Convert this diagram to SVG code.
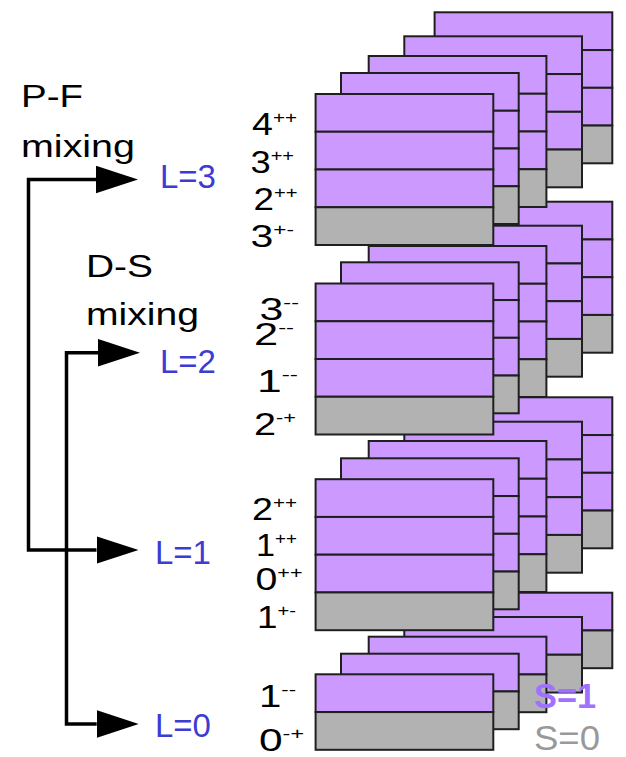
<svg xmlns="http://www.w3.org/2000/svg" xmlns:xlink="http://www.w3.org/1999/xlink" width="626" height="757" viewBox="0 0 626 757">
  <style>
    .spin1 { fill: #cc99ff; stroke: #1f1f1f; stroke-width: 2; }
    .spin0 { fill: #b2b2b2; stroke: #1f1f1f; stroke-width: 2; }
    .wire { fill: none; stroke: #000; stroke-width: 3.5; stroke-linejoin: miter; }
    .mix { font-family: "Liberation Sans", Arial, sans-serif; font-size: 32px; fill: #000; }
    .lval { font-family: "Liberation Sans", Arial, sans-serif; font-size: 33px; fill: #3c3cd4; }
    .jpc { font-family: "Liberation Sans", Arial, sans-serif; font-size: 31px; fill: #000; }
    .sup { font-size: 17px; }
    .s1 { font-family: "Liberation Sans", Arial, sans-serif; font-size: 35px; font-weight: bold; fill: #a070ff; }
    .s0 { font-family: "Liberation Sans", Arial, sans-serif; font-size: 35px; fill: #999999; }
  </style>
  <defs>
    <!-- one multiplet card: three spin-1 rows above one spin-0 row -->
    <g id="card4">
      <rect class="spin1" x="0" y="0" width="177.7" height="37.75"/>
      <rect class="spin1" x="0" y="37.75" width="177.7" height="37.75"/>
      <rect class="spin1" x="0" y="75.5" width="177.7" height="37.75"/>
      <rect class="spin0" x="0" y="113.25" width="177.7" height="37.75"/>
    </g>
    <!-- S-wave card: one spin-1 row above one spin-0 row -->
    <g id="card2">
      <rect class="spin1" x="0" y="0" width="177.7" height="37.75"/>
      <rect class="spin0" x="0" y="37.75" width="177.7" height="37.75"/>
    </g>
    <marker id="head" markerUnits="userSpaceOnUse" markerWidth="42" markerHeight="28" refX="0" refY="13.75" orient="auto-start-reverse" viewBox="0 0 42 27.5">
      <path d="M0,0 L42,13.75 L0,27.5 z" fill="#000"/>
    </marker>
  </defs>

  <!-- stacks of cards, drawn from the bottom one up, back card first -->
  <g id="stack-L0">
    <use xlink:href="#card2" href="#card2" x="434.6" y="592.7"/>
    <use xlink:href="#card2" href="#card2" x="404.3" y="617"/>
    <use xlink:href="#card2" href="#card2" x="368.7" y="636.7"/>
    <use xlink:href="#card2" href="#card2" x="341" y="653.7"/>
    <use xlink:href="#card2" href="#card2" x="315.6" y="674.3"/>
  </g>
  <g id="stack-L1">
    <use xlink:href="#card4" href="#card4" x="434.6" y="397.3"/>
    <use xlink:href="#card4" href="#card4" x="404.3" y="421.7"/>
    <use xlink:href="#card4" href="#card4" x="368.7" y="441"/>
    <use xlink:href="#card4" href="#card4" x="341" y="458.3"/>
    <use xlink:href="#card4" href="#card4" x="315.6" y="479.2"/>
  </g>
  <g id="stack-L2">
    <use xlink:href="#card4" href="#card4" x="434.6" y="201.7"/>
    <use xlink:href="#card4" href="#card4" x="404.3" y="225.7"/>
    <use xlink:href="#card4" href="#card4" x="368.7" y="246"/>
    <use xlink:href="#card4" href="#card4" x="341" y="262.3"/>
    <use xlink:href="#card4" href="#card4" x="315.6" y="283.5"/>
  </g>
  <g id="stack-L3">
    <use xlink:href="#card4" href="#card4" x="434.6" y="12.3"/>
    <use xlink:href="#card4" href="#card4" x="404.3" y="36.3"/>
    <use xlink:href="#card4" href="#card4" x="368.7" y="56"/>
    <use xlink:href="#card4" href="#card4" x="341" y="73"/>
    <use xlink:href="#card4" href="#card4" x="315.6" y="94"/>
  </g>

  <!-- mixing connectors -->
  <g id="connectors">
    <path class="wire" d="M96,179.5 H28.5 V550 H96.5" marker-start="url(#head)" marker-end="url(#head)"/>
    <path class="wire" d="M98,352.7 H66.5 V724 H96.7" marker-start="url(#head)" marker-end="url(#head)"/>
  </g>

  <g id="label-pf">
    <text class="mix" x="21" y="106.5" textLength="62" lengthAdjust="spacingAndGlyphs">P-F</text>
    <text class="mix" x="21" y="156.5" textLength="114" lengthAdjust="spacingAndGlyphs">mixing</text>
  </g>
  <g id="label-ds">
    <text class="mix" x="86" y="276.5" textLength="67" lengthAdjust="spacingAndGlyphs">D-S</text>
    <text class="mix" x="86" y="325" textLength="113" lengthAdjust="spacingAndGlyphs">mixing</text>
  </g>

  <g id="label-L3"><text class="lval" x="160" y="188.3">L=3</text></g>
  <g id="label-L2"><text class="lval" x="160" y="372.5">L=2</text></g>
  <g id="label-L1"><text class="lval" x="155" y="564">L=1</text></g>
  <g id="label-L0"><text class="lval" x="155" y="736.5">L=0</text></g>

  <!-- J^PC labels beside each stack -->
  <g id="jpc-L3">
    <text class="jpc" x="252" y="135" textLength="45" lengthAdjust="spacingAndGlyphs">4<tspan class="sup" dy="-12">++</tspan></text>
    <text class="jpc" x="250.5" y="172.5" textLength="43.5" lengthAdjust="spacingAndGlyphs">3<tspan class="sup" dy="-12">++</tspan></text>
    <text class="jpc" x="253.5" y="209.5" textLength="44" lengthAdjust="spacingAndGlyphs">2<tspan class="sup" dy="-12">++</tspan></text>
    <text class="jpc" x="250.5" y="246.5" textLength="43.5" lengthAdjust="spacingAndGlyphs">3<tspan class="sup" dy="-12">+-</tspan></text>
  </g>
  <g id="jpc-L2">
    <text class="jpc" x="259.5" y="320" textLength="39.5" lengthAdjust="spacingAndGlyphs">3<tspan class="sup" dy="-12">--</tspan></text>
    <text class="jpc" x="254" y="345" textLength="40" lengthAdjust="spacingAndGlyphs">2<tspan class="sup" dy="-12">--</tspan></text>
    <text class="jpc" x="257" y="391.5" textLength="41" lengthAdjust="spacingAndGlyphs">1<tspan class="sup" dy="-12">--</tspan></text>
    <text class="jpc" x="254" y="435" textLength="42" lengthAdjust="spacingAndGlyphs">2<tspan class="sup" dy="-12">-+</tspan></text>
  </g>
  <g id="jpc-L1">
    <text class="jpc" x="252" y="520" textLength="45" lengthAdjust="spacingAndGlyphs">2<tspan class="sup" dy="-12">++</tspan></text>
    <text class="jpc" x="256" y="556" textLength="41" lengthAdjust="spacingAndGlyphs">1<tspan class="sup" dy="-12">++</tspan></text>
    <text class="jpc" x="255.5" y="590" textLength="47" lengthAdjust="spacingAndGlyphs">0<tspan class="sup" dy="-12">++</tspan></text>
    <text class="jpc" x="257" y="628" textLength="39" lengthAdjust="spacingAndGlyphs">1<tspan class="sup" dy="-12">+-</tspan></text>
  </g>
  <g id="jpc-L0">
    <text class="jpc" x="259" y="706.5" textLength="37" lengthAdjust="spacingAndGlyphs">1<tspan class="sup" dy="-12">--</tspan></text>
    <text class="jpc" x="259" y="751" textLength="45" lengthAdjust="spacingAndGlyphs">0<tspan class="sup" dy="-12">-+</tspan></text>
  </g>

  <!-- spin legend -->
  <g id="legend">
    <text class="s1" x="534" y="708" textLength="62" lengthAdjust="spacingAndGlyphs">S=1</text>
    <text class="s0" x="534" y="750" textLength="66" lengthAdjust="spacingAndGlyphs">S=0</text>
  </g>
</svg>
